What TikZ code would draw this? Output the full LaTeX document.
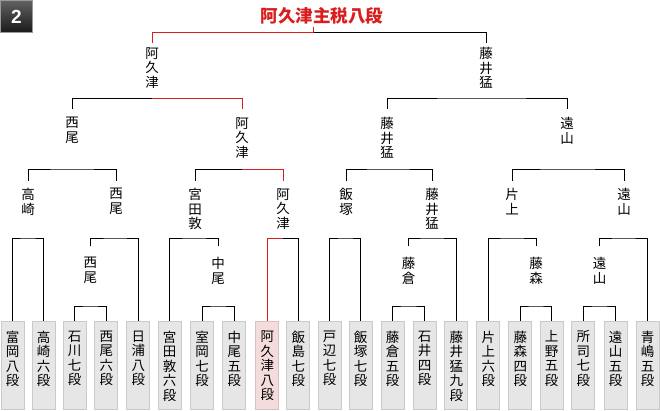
\documentclass[tikz,border=0pt]{standalone}
\usepackage{fontspec}
\setsansfont{Liberation Sans}
\newfontfamily\jp{Noto Sans CJK JP}
\usetikzlibrary{calc}
\definecolor{winred}{HTML}{D81E1E}
\definecolor{gbox}{HTML}{E6E6E6}
\definecolor{rbox}{HTML}{F4DCDC}
\tikzset{
  bline/.style={line width=1pt, draw=black},
  winline/.style={line width=1pt, draw=winred},
  pname/.style={font=\jp\fontsize{13.5}{14.5}\selectfont, align=center, anchor=north, inner xsep=0pt, inner ysep=#1},
  pname/.default=7pt,
  ptext/.style={font=\jp\fontsize{13.5}{14.5}\selectfont, align=center, anchor=north, inner sep=0pt},
  pbox/.style={anchor=north, minimum width=23pt, minimum height=88pt, inner sep=0pt, line width=1pt},
  badge/.style={draw=black!40, line width=1pt, top color=black!62, bottom color=black!90, text=white,
    font=\sffamily\bfseries\fontsize{19}{19}\selectfont, minimum size=32pt, inner sep=0pt},
  ptitle/.style={font=\jp\bfseries\fontsize{17.5}{18}\selectfont, text=winred, inner sep=0pt}
}

\begin{document}
\begin{tikzpicture}[x=1pt,y=-1pt]
    \useasboundingbox (0,0) rectangle (660,410);

    \node[badge] (badge) at (16.5,16.5) {2};
    \node[ptitle] (T) at (322,16) {阿久津主税八段};

    % players
    \foreach \x/\c/\t [count=\i] in {
        12.7/gbox/富\\岡\\八\\段, 43.5/gbox/高\\崎\\六\\段, 74.5/gbox/石\\川\\七\\段,
        106.3/gbox/西\\尾\\六\\段, 138.3/gbox/日\\浦\\八\\段, 169.5/gbox/宮\\田\\敦\\六\\段,
        202/gbox/室\\岡\\七\\段, 234.3/gbox/中\\尾\\五\\段, 267.3/rbox/阿\\久\\津\\八\\段,
        298.3/gbox/飯\\島\\七\\段, 329.5/gbox/戸\\辺\\七\\段, 360.7/gbox/飯\\塚\\七\\段,
        392.7/gbox/藤\\倉\\五\\段, 424.7/gbox/石\\井\\四\\段, 456.3/gbox/藤\\井\\猛\\九\\段,
        488.3/gbox/片\\上\\六\\段, 520.3/gbox/藤\\森\\四\\段, 551.7/gbox/上\\野\\五\\段,
        583.3/gbox/所\\司\\七\\段, 615.7/gbox/遠\\山\\五\\段, 647.5/gbox/青\\嶋\\五\\段}{
        \node[pbox, fill=\c, draw=\c!88!black] (B\i) at (\x,321) {};
        \node[ptext] (L\i) at ([yshift=-9.5pt]B\i.north) {\t};
    }

    % winners
    \node[pname=4pt] (F1) at (152,43) {阿\\久\\津};
    \node[pname=4pt] (F2) at (486,43) {藤\\井\\猛};

    \node[pname=8pt] (S1) at (72,109) {西\\尾};
    \node[pname=8pt] (S2) at (242,109) {阿\\久\\津};
    \node[pname=8pt] (S3) at (387,109) {藤\\井\\猛};
    \node[pname=8pt] (S4) at (567,109) {遠\\山};

    \node[pname] (R1) at (28,181) {高\\崎};
    \node[pname] (R2) at (116,181) {西\\尾};
    \node[pname] (R3) at (195,181) {宮\\田\\敦};
    \node[pname] (R4) at (283,181) {阿\\久\\津};
    \node[pname] (R5) at (346,181) {飯\\塚};
    \node[pname] (R6) at (432,181) {藤\\井\\猛};
    \node[pname] (R7) at (512,181) {片\\上};
    \node[pname] (R8) at (624,181) {遠\\山};

    \node[pname=11pt] (Q1) at (90.4,246) {西\\尾};
    \node[pname=11pt] (Q2) at (218.2,246) {中\\尾};
    \node[pname=11pt] (Q3) at (408.7,246) {藤\\倉};
    \node[pname=11pt] (Q4) at (536,246) {藤\\森};
    \node[pname=11pt] (Q5) at (599.5,246) {遠\\山};

    % brackets
    \foreach \a/\p/\b/\h in {
        B3/Q1/B4/306, B7/Q2/B8/306, B13/Q3/B14/306, B17/Q4/B18/306, B19/Q5/B20/306,
        B1/R1/B2/238, Q1/R2/B5/238, B6/R3/Q2/238, B11/R5/B12/238, Q3/R6/B15/238,
        B16/R7/Q4/238, Q5/R8/B21/238,
        R1/S1/R2/169, R5/S3/R6/169, R7/S4/R8/169,
        S3/F2/S4/98}
        \draw[bline] (\a.north) |- (\p |- 0,\h) -| (\b.north);

    \draw[bline] (R4 |- 0,238) -| (B10.north);
    \draw[bline] (R3.north) |- (S2 |- 0,169);
    \draw[bline] (S1.north) |- (F1 |- 0,98);
    \coordinate (J0) at (313,32);
    \draw[bline] (J0) -| (F2.north);

    % winner path
    \draw[winline] (B9.north) |- (R4 |- 0,238);
    \draw[winline] (S2 |- 0,169) -| (R4.north);
    \draw[winline] (F1 |- 0,98) -| (S2.north);
    \draw[winline] (F1.north) |- (J0) -- ++(0,-5);
\end{tikzpicture}
\end{document}
